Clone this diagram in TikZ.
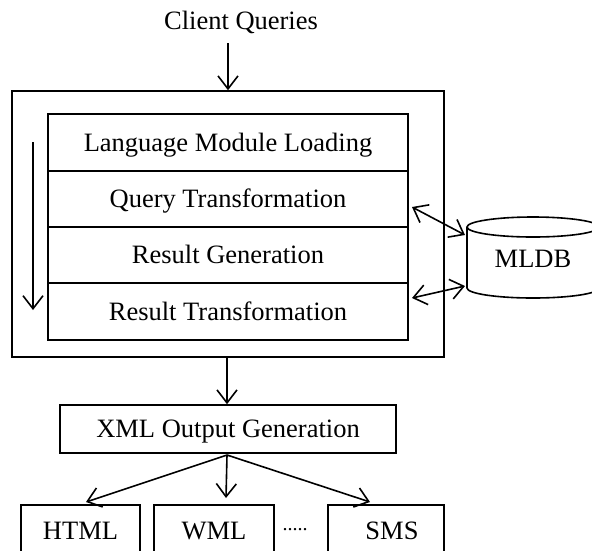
\documentclass[tikz,border=0pt]{standalone}
\usepackage{fontspec}
\setmainfont{Liberation Serif}
\usetikzlibrary{arrows.meta}
\begin{document}
\begin{tikzpicture}[x=1pt,y=1pt,
  line width=1.6pt,
  tip/.tip={Straight Barb[length=13pt,width=20pt,line width=1.6pt]},
  arr/.style={-tip},
  darr/.style={tip-tip},
  box/.style={draw, rectangle, inner sep=0pt, text height=17.5pt, text depth=0pt,
    font=\fontsize{26.5}{30}\selectfont},
  lbl/.style={inner sep=0pt, text height=17.5pt, text depth=0pt,
    font=\fontsize{26.5}{30}\selectfont}]
\useasboundingbox (0,0) rectangle (592,-550);

% title
\node[lbl] (client) at (241,-20.5) {Client Queries};

% outer box
\node[box, minimum width=432pt, minimum height=266pt] (outer) at (228,-224) {};

% inner rows
\node[box, minimum width=360pt, minimum height=57pt] (r1) at (228,-142.5) {Language Module Loading};
\node[box, minimum width=360pt, minimum height=56pt] (r2) at (228,-199) {Query Transformation};
\node[box, minimum width=360pt, minimum height=56pt] (r3) at (228,-255) {Result Generation};
\node[box, minimum width=360pt, minimum height=57pt] (r4) at (228,-311.5) {Result Transformation};

% left flow arrow
\coordinate (fa) at (33,-142);
\coordinate (fb) at (33,-310);
\draw[arr] (fa) -- (fb);

% top arrow
\coordinate (ta) at (228,-43);
\draw[arr] (ta) -- (outer.north -| ta);

% MLDB cylinder
\draw (467,-227) -- (467,-288) arc[start angle=180, end angle=360, x radius=66, y radius=10] -- (599,-227);
\draw (533,-227) ellipse[x radius=66, y radius=10];
\node[lbl] (mldb) at (533,-259) {MLDB};

% double arrows
\coordinate (d1a) at (412,-207);
\coordinate (d1b) at (465,-235);
\coordinate (d2a) at (412,-298);
\coordinate (d2b) at (465,-286);
\draw[darr] (d1a) -- (d1b);
\draw[darr] (d2a) -- (d2b);

% XML box
\node[box, minimum width=336pt, minimum height=48pt] (xml) at (228,-429) {XML Output Generation};
\draw[arr] (outer.south -| 227,0) -- (xml.north -| 227,0);

% bottom boxes
\node[box, minimum width=119pt, minimum height=60pt] (html) at (80.5,-535) {};
\node[box, minimum width=120pt, minimum height=60pt] (wml) at (214,-535) {};
\node[box, minimum width=116pt, minimum height=60pt] (sms) at (386,-535) {};
\node[lbl] (htmlt) at (80.5,-531.2) {HTML};
\node[lbl] (wmlt) at (214,-531.2) {WML};
\node[lbl] (smst) at (392,-531.2) {SMS};
\node[inner sep=0pt, anchor=base, font=\fontsize{20}{24}\selectfont] (dots) at (295,-530) {.....};

% fan arrows
\coordinate (fs) at (227,-455);
\coordinate (h1) at (86,-502);
\coordinate (w1) at (226,-498);
\coordinate (s1) at (370,-502);
\draw[arr] (fs) -- (h1);
\draw[arr] (fs) -- (w1);
\draw[arr] (fs) -- (s1);
\end{tikzpicture}
\end{document}
